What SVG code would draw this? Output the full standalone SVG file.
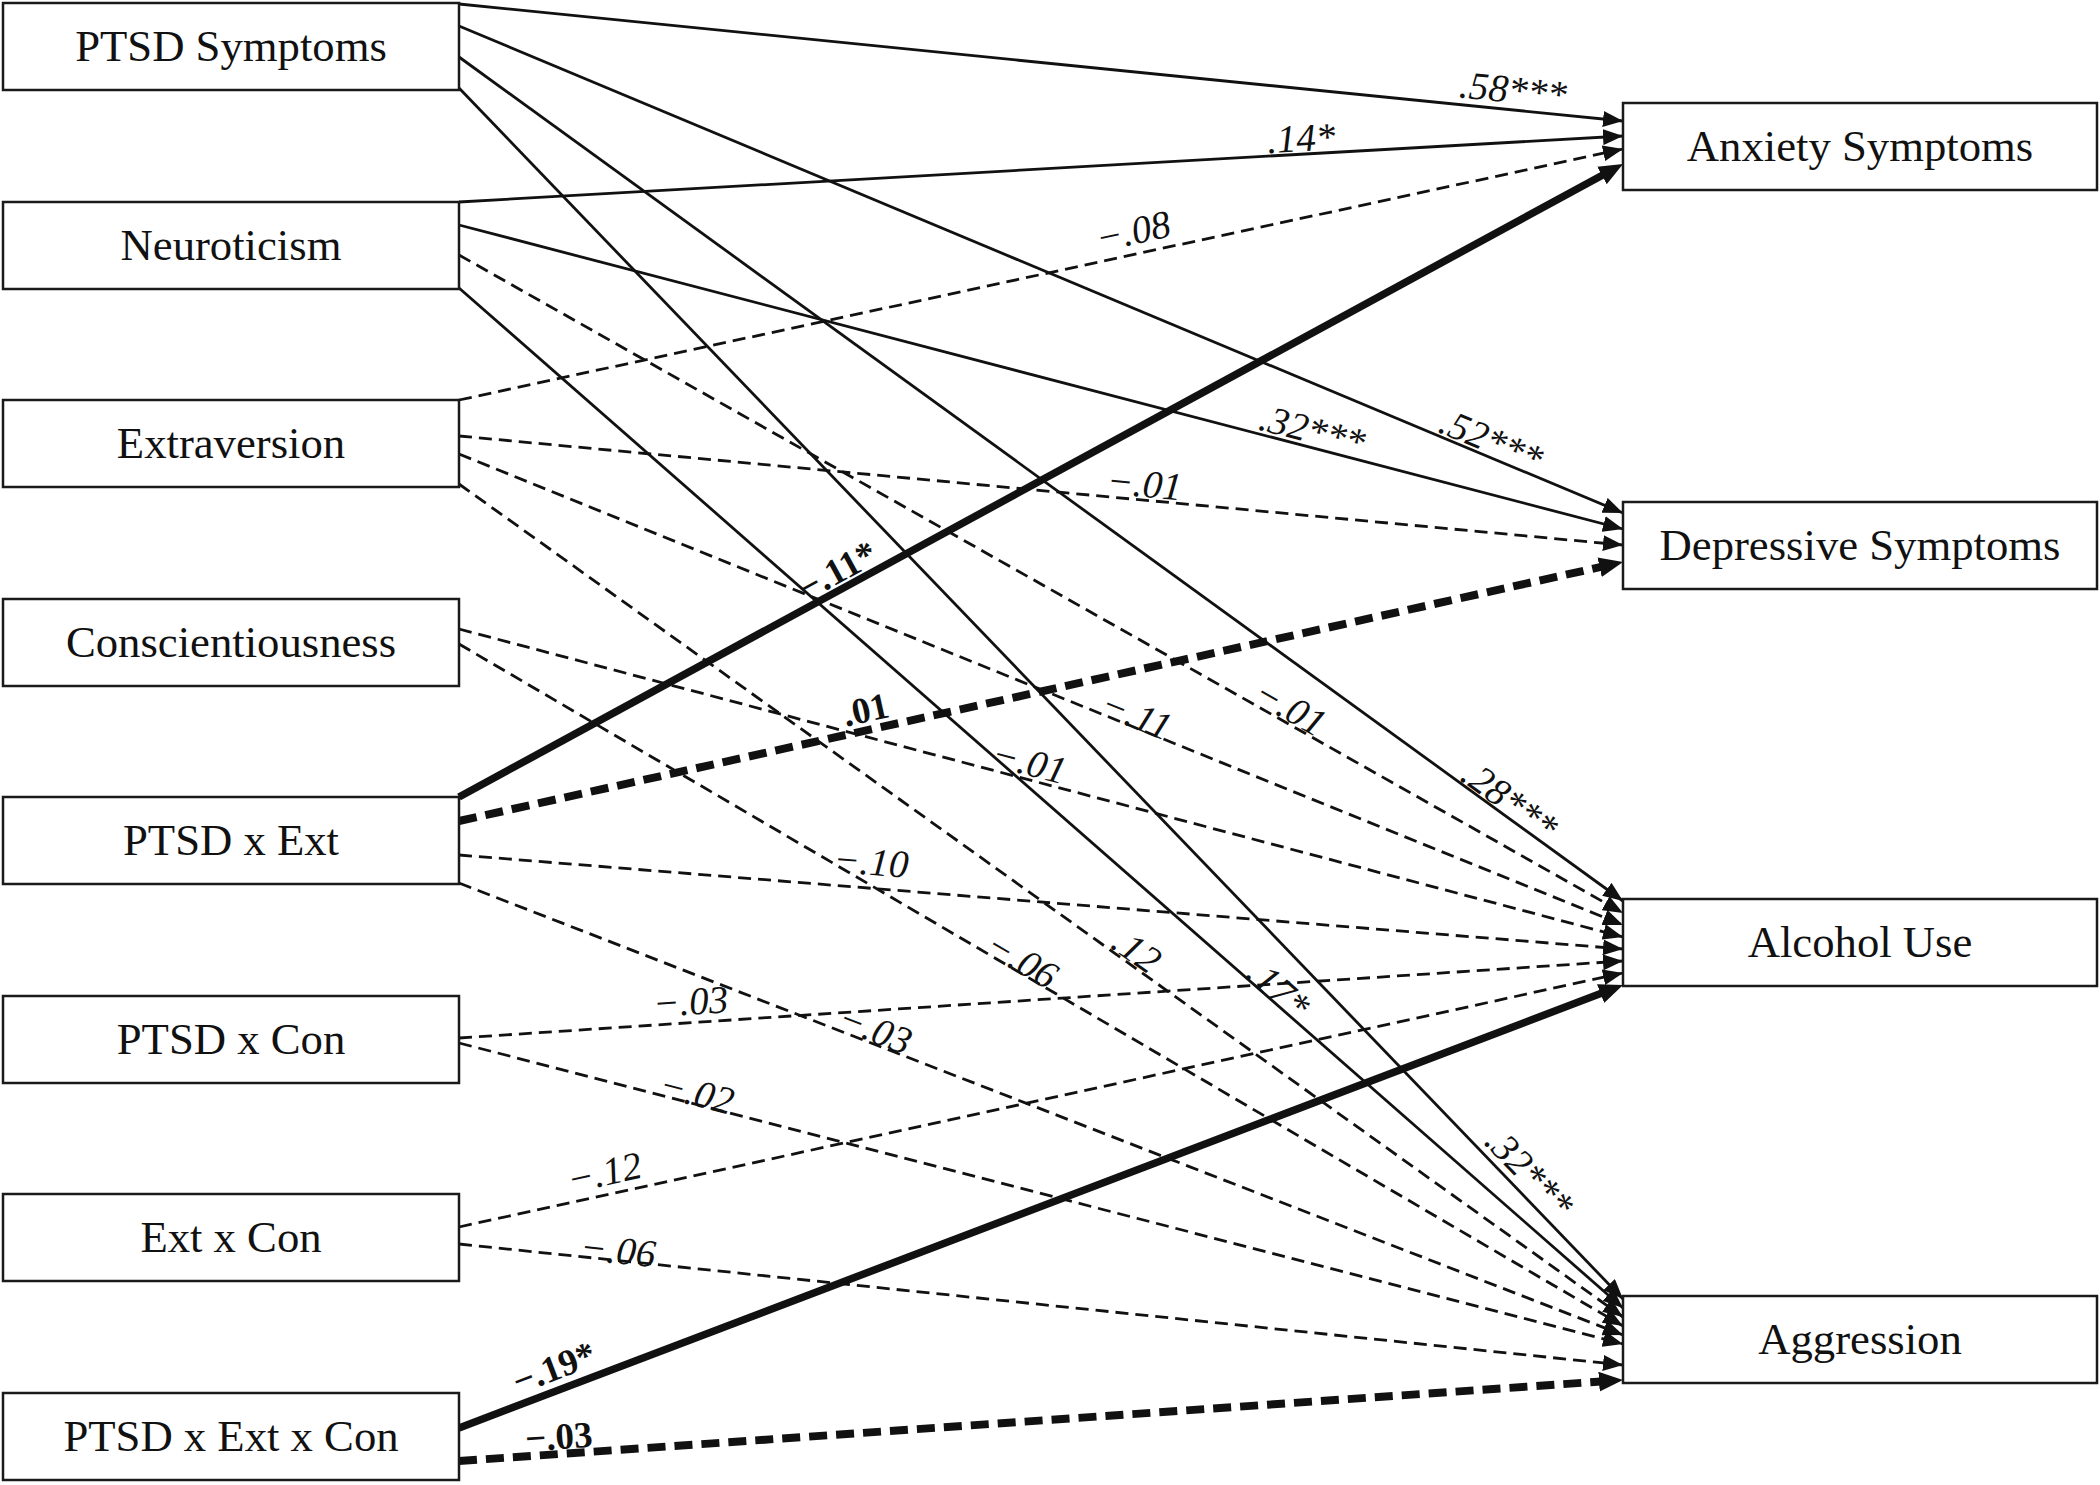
<svg xmlns="http://www.w3.org/2000/svg" width="2100" height="1485" viewBox="0 0 2100 1485">
<style>
.box{fill:#fff;stroke:#1a1a1a;stroke-width:2.5}
.nt{font-family:"Liberation Serif","Times New Roman",serif;font-size:44.7px;text-anchor:middle;fill:#111}
.s{stroke:#111;stroke-width:2.8;fill:none;marker-end:url(#arr)}
.d{stroke-dasharray:13 7}
.ts{stroke-width:7.5;marker-end:url(#arrB)}
.td{stroke-width:8;stroke-dasharray:18 9;marker-end:url(#arrB)}
.lb{font-family:"Liberation Serif","Times New Roman",serif;font-size:39px;font-style:italic;text-anchor:middle;fill:#111}
.bb{font-weight:bold;font-style:normal;font-size:37px}
</style>
<defs>
<marker id="arr" markerUnits="userSpaceOnUse" markerWidth="20" markerHeight="16" refX="20" refY="8" orient="auto" viewBox="0 0 20 16"><path d="M0,0 L20,8 L0,16 z" fill="#111"/></marker>
<marker id="arrB" markerUnits="userSpaceOnUse" markerWidth="24" markerHeight="20" refX="12" refY="10" orient="auto" viewBox="0 0 24 20"><path d="M0,0 L24,10 L0,20 z" fill="#111"/></marker>
</defs>
<rect width="2100" height="1485" fill="#fff"/>
<g id="connectors">
<line class="s" x1="459" y1="4" x2="1623" y2="121"/>
<line class="s" x1="459" y1="202" x2="1623" y2="136"/>
<line class="s d" x1="459" y1="400" x2="1623" y2="149"/>
<line class="s ts" x1="459" y1="797" x2="1612.5" y2="169.7"/>
<line class="s" x1="459" y1="26" x2="1623" y2="513"/>
<line class="s" x1="459" y1="225" x2="1623" y2="529"/>
<line class="s d" x1="459" y1="436" x2="1623" y2="545"/>
<line class="s td" x1="459" y1="821" x2="1611.3" y2="564.6"/>
<line class="s" x1="459" y1="57" x2="1623" y2="901"/>
<line class="s d" x1="459" y1="255" x2="1623" y2="913"/>
<line class="s d" x1="459" y1="454" x2="1623" y2="925"/>
<line class="s d" x1="459" y1="629" x2="1623" y2="937"/>
<line class="s d" x1="459" y1="855" x2="1623" y2="949"/>
<line class="s d" x1="459" y1="1038" x2="1623" y2="961"/>
<line class="s d" x1="459" y1="1227" x2="1623" y2="973"/>
<line class="s ts" x1="459" y1="1428" x2="1611.8" y2="989.3"/>
<line class="s" x1="459" y1="88" x2="1623" y2="1299"/>
<line class="s" x1="459" y1="288" x2="1623" y2="1308"/>
<line class="s d" x1="459" y1="484" x2="1623" y2="1317"/>
<line class="s d" x1="459" y1="644" x2="1623" y2="1326"/>
<line class="s d" x1="459" y1="883" x2="1623" y2="1335"/>
<line class="s d" x1="459" y1="1043" x2="1623" y2="1344"/>
<line class="s d" x1="459" y1="1244" x2="1623" y2="1365"/>
<line class="s td" x1="459" y1="1461" x2="1611" y2="1380.8"/>
</g>
<g id="labels">
<text class="lb" transform="translate(1511,109.7) rotate(5.74)" y="-7">.58***</text>
<text class="lb" transform="translate(1302,154.2) rotate(-3.24)" y="-3">.14*</text>
<text class="lb" transform="translate(1138,253.6) rotate(-12.17)" y="-10">−.08</text>
<text class="lb bb" transform="translate(846,586.5) rotate(-28.54)" y="-6">−.11*</text>
<text class="lb" transform="translate(1485,455) rotate(22.7)" y="-3">.52***</text>
<text class="lb" transform="translate(1308,446.6) rotate(14.64)" y="-4">.32***</text>
<text class="lb" transform="translate(1143,499.8) rotate(5.35)" y="-3">−.01</text>
<text class="lb bb" transform="translate(870,729.5) rotate(-12.54)" y="-8">.01</text>
<text class="lb" transform="translate(1501,812.5) rotate(35.95)" y="-2">.28***</text>
<text class="lb" transform="translate(1283,720.8) rotate(29.48)" y="-2">−.01</text>
<text class="lb" transform="translate(1132,726.3) rotate(22.03)" y="1">−.11</text>
<text class="lb" transform="translate(1025,778.8) rotate(14.82)" y="-4">−.01</text>
<text class="lb" transform="translate(869,887.8) rotate(4.62)" y="-13">−.10</text>
<text class="lb" transform="translate(692,1022.6) rotate(-3.78)" y="-8">−.03</text>
<text class="lb" transform="translate(609,1194) rotate(-12.31)" y="-9">−.12</text>
<text class="lb bb" transform="translate(562,1388.5) rotate(-20.84)" y="-10">−.19*</text>
<text class="lb" transform="translate(1515,1186.6) rotate(46.13)" y="-7">.32***</text>
<text class="lb" transform="translate(1270,998.7) rotate(41.23)" y="0">.17*</text>
<text class="lb" transform="translate(1128,962.8) rotate(35.59)" y="-2">.12</text>
<text class="lb" transform="translate(1016,970.3) rotate(30.37)" y="1">−.06</text>
<text class="lb" transform="translate(870,1042.6) rotate(21.22)" y="-1">−.03</text>
<text class="lb" transform="translate(694,1103.5) rotate(14.5)" y="2">−.02</text>
<text class="lb" transform="translate(617,1260.4) rotate(5.94)" y="3">−.06</text>
<text class="lb bb" transform="translate(560,1454) rotate(-3.98)" y="-5">−.03</text>
</g>
<g id="n-ptsd"><rect class="box" x="3" y="3" width="456" height="87"/><text class="nt" x="231" y="61">PTSD Symptoms</text></g>
<g id="n-neuro"><rect class="box" x="3" y="202" width="456" height="87"/><text class="nt" x="231" y="260">Neuroticism</text></g>
<g id="n-extra"><rect class="box" x="3" y="400" width="456" height="87"/><text class="nt" x="231" y="458">Extraversion</text></g>
<g id="n-consc"><rect class="box" x="3" y="599" width="456" height="87"/><text class="nt" x="231" y="657">Conscientiousness</text></g>
<g id="n-pxe"><rect class="box" x="3" y="797" width="456" height="87"/><text class="nt" x="231" y="855">PTSD x Ext</text></g>
<g id="n-pxc"><rect class="box" x="3" y="996" width="456" height="87"/><text class="nt" x="231" y="1054">PTSD x Con</text></g>
<g id="n-exc"><rect class="box" x="3" y="1194" width="456" height="87"/><text class="nt" x="231" y="1252">Ext x Con</text></g>
<g id="n-pxexc"><rect class="box" x="3" y="1393" width="456" height="87"/><text class="nt" x="231" y="1451">PTSD x Ext x Con</text></g>
<g id="n-anx"><rect class="box" x="1623" y="103" width="474" height="87"/><text class="nt" x="1860" y="161">Anxiety Symptoms</text></g>
<g id="n-dep"><rect class="box" x="1623" y="502" width="474" height="87"/><text class="nt" x="1860" y="560">Depressive Symptoms</text></g>
<g id="n-alc"><rect class="box" x="1623" y="899" width="474" height="87"/><text class="nt" x="1860" y="957">Alcohol Use</text></g>
<g id="n-agg"><rect class="box" x="1623" y="1296" width="474" height="87"/><text class="nt" x="1860" y="1354">Aggression</text></g>
</svg>
